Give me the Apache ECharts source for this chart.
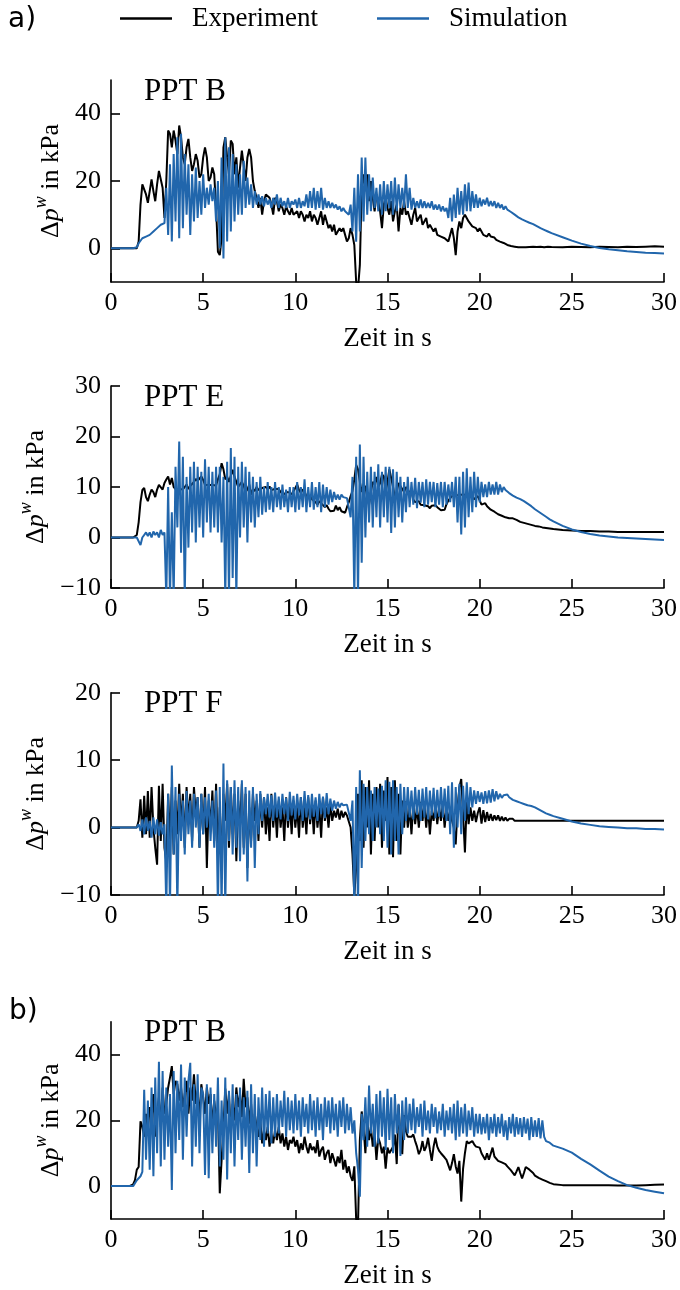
<!DOCTYPE html>
<html><head><meta charset="utf-8">
<script src="https://cdn.jsdelivr.net/npm/echarts@6/dist/echarts.min.js"></script>
<style>html,body{margin:0;padding:0;background:#fff}#c{width:680px;height:1290px}</style>
</head><body><div id="c"></div>
<script>
// ---- time base: dense samples every 0.1 s from 0 to 24 s, then tail samples every 0.5 s from 24.5 to 30 s
const DENSE_STEP = 0.1;
const TAIL_START = 24.5;
const TAIL_STEP = 0.5;

// ---- a) PPT B
const expAB = [
0,0,0,0,0,0,0,0,0,0,
0,0,0,0,0,2,13,19,19.5,16,
13.5,17,20.5,17,14,19,23,23,18,9,
20,35,34,30,35,32,28,36.5,33,27,
25,30,32.5,27,23,25,28,26,21,22,
27,30,27,20,21,24,22,12,-1,-2,
3,30,33,27,22,32,31,22,27,18,
24,29,29,20,27,29.5,27,20,17,15,
12,15,10,14,16,16.5,15,13,10,15,
14,11,13,12,10,12.5,11,10,12,10,
10.5,11,9,11,10,8,10,9,11,8,
10,9,7,9,11,7,10,8,6,7,
5,7,4,5,6,5,6,4,2,3,
6,4,1,-10,-12,-5,18,22,17,22,
14,20,15,11,16,14,11,6,13,15,
12,10,14,8,11,13,5,12,10,14,
10,11,9,7,10,12,8,9,10,7,
8,9,6,7,6,5,6,4,4.5,3.5,
4,3,2.5,2,4,6,3,-2,5,8,
6,9,10,10.5,8,8.5,6.5,7,6,5,
6,5,4,4.5,3.5,4.4,3.5,3,3.2,2.5,
2.5,2,1.5,1.6,1.2,1,0.9,0.7,0.6,0.5,
0.4,0.3,0.5,0.3,0.4,0.3,0.5,0.4,0.3,0.5,
0.3,0.4,0.3,0.5,0.4,0.3,0.4,0.5,0.3,0.4,
0.4];
const expAB_tail = [0.3,0.5,0.4,0.3,0.5,0.4,0.3,0.5,0.4,0.5,0.6,0.5];

const simAB = [
0,0,0,0,0,0,0,0,0,0,
0,0,0,0,0.3,1.5,2,3,2.5,3.5,
3.5,4,4.5,5,5.5,6,6.5,7,7,7.5,
18,4,25,2,28,8,33,3,34,6,
28,10,25,4,22,8,24,9,20,10,
22,12,18,13,19,14,18,8,20,0,
27,-3,33,2,30,5,28,8,25,10,
22,10,26,12,21,13,19,12,17,13,
16,13,15.5,12.5,15,13,14.5,12,15,13,
16,12,15,12.5,14,12,15,12,14,13,
14.5,12,15,12,14,12.5,16,12,17,12,
18,11.5,17,12,18,11.5,15,12,14,12,
13.5,12,13,11.5,12.5,11,12,11,11.5,10,
13,5,18,2,22,5,27,8,27,10,
22,11,21,12,18,11,19,10,20,11,
19,12,20,10,21,11,19,12,18,12,
22,12,18,11.5,15,12,14,12,14.5,12,
14,12,13.5,12,14,11.5,13,11.5,13,11,
12.5,11,12,9,15,8,16,9,18,10,
17,10,19,11,19.5,11,17,12,16,12,
15,12.5,14.5,13,15,12.5,14,12.5,14,12,
13.5,12,13,11.5,12.5,11.5,11.5,10.8,10.5,10,
9.5,9.2,8.9,8.6,8.3,8.1,7.8,7.6,7.4,7.2,
6.9,6.6,6.3,6,5.7,5.5,5.2,5,4.8,4.5,
4.3];
const simAB_tail = [3.3,2.3,1.4,0.7,0.1,-0.3,-0.6,-0.9,-1.1,-1.3,-1.4,-1.5];

// ---- a) PPT E
const expAE = [
0,0,0,0,0,0,0,0,0,0,
0,0,0,0,0.5,3,7,9.4,9.8,8,
7.2,8.5,9.5,9,8,9.5,10.4,10.4,9.5,10.8,
11.5,12.1,10.5,11.8,10,9.6,9.4,9.6,9.3,9.5,
9.8,10.5,9.6,10.2,10.6,11,11.6,11.2,11.4,12.1,
11.4,10.4,10.6,10.4,10.4,10.4,10.5,10.3,11.5,12.5,
14.7,13.5,11.5,12,11,12.2,13.4,12,11,10,
10.3,11,10.2,9,9.5,10.5,8.5,9.6,9.2,10,
9.4,9.7,9.8,9.5,10,9.5,10.1,9.4,9.2,9.6,
9.3,9.6,9,8.8,8.5,9,9.2,8.9,8.5,8.8,
9.8,10.5,9.4,8.8,9.5,9.1,8.2,7.8,8.3,7.6,
7.3,7,6.5,7.2,6.8,6.6,6,6.4,5.7,5.2,
5,5.3,6.3,5.4,6,5.2,5,4.9,6,7,
8.2,9.2,11.5,14.4,13.5,11,9,10.5,10,8,
6.5,9,11,10.5,12,10,10.8,12.5,12.1,9,
11,13.5,13.7,10,8,9,10.8,10.5,9.6,9,
10,9.5,8.8,9.2,7.5,7,6.8,7.2,6.5,6.8,
6.4,6.6,6.2,5.8,6.3,6.6,6.4,6,5.7,5.4,
5.2,5.5,6.6,7.3,7.8,8.2,8.5,8.3,8.6,8.4,
8.6,8.5,8.3,8.4,8,8.5,8.1,7.6,7.9,8.2,
8.1,6.5,6.2,6.8,6.2,5.9,5.5,5.3,5.1,4.8,
4.6,4.4,4.3,4.1,4,3.9,3.8,3.9,3.8,3.6,
3.5,3.3,3.1,3,2.9,2.8,2.7,2.6,2.5,2.4,
2.3,2.3,2.2,2.1,2,2,1.9,1.8,1.8,1.7,
1.7];
const expAE_tail = [1.5,1.4,1.3,1.3,1.2,1.2,1.1,1.1,1.1,1.1,1.1,1.1];

const simAE = [
0,0,0,0,0,0,0,0,0,0,
0,0,0,0,0,0,-1.5,0,0.5,1,
0.3,1,0,1.2,0.5,1,0,1.5,0.5,1,
-12,10,-12,5,-12,14,2,19,-3,16,
-12,12,-2,14,1,15,-1,14,2,13,
0,15.5,3,14,1,13,2,14,1,14,
-1,12,-12,15,-12,17.7,-8,16,-12,14,
0,15,2,14,-1,13,3,12,2,11,
4,12,4.5,10,5,11,5.5,10,5,11,
6,10,5.5,10.5,6,9.5,5,10,6,10,
5,11,5.5,10,6,11.5,5,10,6,11,
5.5,10,6,11,5,10.5,6,10,6.5,9.5,
7,9,7.5,8.5,7.5,8.5,8,8.3,7.8,8,
4,12,-12,16,-12,18.4,-5,16,0,13,
3,14,2,13,4,14.5,2,13,4,14,
3,14,0.9,13.5,2,13,4,12,3,11,
5,12,6,11,6.5,11.8,5.8,11,6.9,11,
6,11.5,6.5,11,7,11,6,10.8,6.5,11,
6,11,6.5,10.5,7,11,6,12,3,12,
0.6,13,2,13.7,4,12,5,13,6,12,
7,11,8,10.5,8,11,8.5,10.5,8.5,11,
8.5,10.5,9,10,9.4,9.2,8.8,8.6,8.3,8,
7.9,7.8,7.6,7.4,7.2,7,6.7,6.5,6.2,5.9,
5.6,5.3,5.1,4.8,4.6,4.3,4.1,3.8,3.6,3.4,
3.2];
const simAE_tail = [2.3,1.6,1.1,0.7,0.4,0.2,0,-0.1,-0.2,-0.3,-0.4,-0.5];

// ---- a) PPT F
const expAF = [
0,0,0,0,0,0,0,0,0,0,
0,0,0,0,0,1,4.2,-1.5,4.7,-1,
5.4,-1.5,6,0,-3,-5.5,6.2,-2,6.5,-3,
-5,5,-2,6,-4,4,-1,6.5,0,5,
-3,6,1,5,-2,6,2,4.5,-3,5,
-1,6,-6,4,0,5.5,-2,6.5,-4,3,
-6,5,1,6.5,-3,6,-1,5,-5,4,
0,6.5,-3,5,-6,3,-2,5,1,4,
-2,5,0,4.5,-1,3,-2,5,0,3.5,
-1.5,4,0,3,-2,4.5,0,3.5,-1,4,
0,3,-1.5,4.5,0,3,-1,4.5,0.5,3.5,
-1,4,0,3,-1.5,4.5,1,3,0,3.5,
1,2.5,1.5,2.8,1.2,2.5,1.5,2.3,1.8,2,
0,-4,-10,-6,5,-2,7,-3,6,0,
7,-4,5,-2,6,0,6.5,-3,5.5,1,
7.5,-4,6,-4.4,7,-2,5,-4,4,0,
3.9,0,3,-1,3.5,0.5,3,0,3.8,1,
3.5,0,3,-1,2.5,1,3.5,0.5,3,1,
3.5,0,3,1,2.5,1,0,-2.5,3,6,
7.2,2,-3.7,4,0.5,3,1,2.5,0.8,2.2,
3,0.6,2.6,0.8,2.3,1,2,1,1.8,1.1,
1.8,1,1.6,1,1.5,1,1.3,1.1,1.3,1,
1.2,1,1.1,1,1.1,1,1,1,1,1,
1,1,1,1,1,1,1,1,1,1,
1];
const expAF_tail = [1,1,1,1,1,1,1,1,1,1,1,1];

const simAF = [
0,0,0,0,0,0,0,0,0,0,
0,0,0,0,0,0.5,-0.5,1.2,-1,1.5,
-0.5,1,-1.5,1.5,-1,1.2,-1.2,0.8,-1,0.5,
-12,5,-12,9.2,-4,6,-12,5,-2,4,
-4,5.4,-1,4,-3,5,0,4.5,-3,5,
-1,4.5,0,5,-2,4,-3,5.5,-12,6,
-12,9.5,-12,7,-2,6,-4,7,-3,6,
-5,7,-4,6,-8,5.5,-3,6,-6,5,
-1,5.4,1,4.5,2,5,1.5,4.8,1,5.2,
1.5,4.6,1.2,5,2,4.4,1,5.3,1.8,4.7,
1.2,5,1.8,4.5,1,5.4,1.5,4.8,1.2,5,
1.6,4.5,1,5,2,4.6,1.4,5.1,2,4.3,
2.5,4,2.8,3.8,3,3.6,3.3,3.5,3.4,3.3,
1,4,-12,6,-12,8.5,-6,6.5,-2,6,
-1,5.5,-2,6,0,5.8,-1,6.2,-2,7,
-3,6.8,-4,7,-2,6,-4,6.5,-1,6,
1,6,1.5,5.5,1.2,6,1.9,5.6,1,5.8,
1.5,6,1.2,5.5,1.8,5.9,1.4,5.6,1.6,6,
1.5,5.8,1,6.2,-1,6.7,-3,6,0,6.5,
-1,6.2,1,6.7,2,6,3,5.5,3.5,5.4,
3.8,5.2,3.5,5.4,3.6,5.5,3.7,5.7,3.9,5.4,
4.2,5,4.4,4.8,4.6,4.9,4.5,4.3,4.1,4,
3.9,4,3.7,3.8,3.5,3.6,3.3,3.3,3.2,3.1,
3,2.8,2.7,2.5,2.4,2.2,2.1,2,1.9,1.8,
1.7];
const simAF_tail = [1.3,0.9,0.6,0.4,0.2,0.1,0,-0.1,-0.1,-0.2,-0.2,-0.3];

// ---- b) PPT B
const expB = [
0,0,0,0,0,0,0,0,0,0,
0,0,0.5,1.8,5,5.8,19.7,18,15,22,
17,24,20,28,15,22,27,18,30,22,
25,30,33,36.5,28,32,31,26,30,24,
28,32,22,30,26,34,25,29,20,31,
27,22,30,25,28,18,26,21,24,-2.2,
-1.6,18,29.7,22,28,16,25,20,30,24,
28,21,32.6,24,27,19,25,16,22,18,
15,20,13,17,14,18,12,16,13,17,
14,18,13,16,12,15,11,14,13,15,
12,14,10,13,11,15,12,10,13,11,
12,10,14,9,11,12,8,10,11,7,
10,8,6,9,7,11,5,8,4,6,
3,1.6,6,-10,-12,14,22.7,18,10,20,
14,18,12,16,8,14.7,13,10,12,5.3,
11.7,10,9.7,12,15.7,6.7,24.7,15,9.7,21.6,
16.7,15,14.7,15,15.7,13.7,12,9.7,11,13.7,
10.7,12,14.7,11,7.7,12,14.7,12,10.7,10,
9.7,8.7,8,7.7,4.8,7,9.7,6,3.8,7.7,
-4.7,5.3,10,13.7,13,12.7,13.7,12.7,12,12,
11.7,10,9,8,10,8,7.7,11.7,9,8.7,
7.7,7.5,7.2,7,6.7,6,5.5,4.8,4,3.3,
4.5,5.8,4,2.3,4,5.8,5.3,5,4.8,4,
3.2,2.8,2.5,2.2,2,1.8,1.5,1.2,1,0.8,
0.6];
const expB_tail = [0.3,0.3,0.3,0.3,0.3,0.3,0.2,0.2,0.2,0.3,0.4,0.5];

const simB = [
0,0,0,0,0,0,0,0,0,0,
0,0,0,0.5,1.8,2,3,4.3,29.3,8,
26,5,30,3,33,10,37.8,6,35,8,
30,12,28,-1.2,35,10,32,14,37,8,
33,15,32,37.5,6,31,12,34,10,30,
28,3.4,31,2.4,30,10,28,12,33,6,
26,8,33,2,29,10,31,6,28,14,
30,8,27,12,29,4,31,10,28,6,
27,14,30,12,28,16,29,13,27,15,
28,16,26,18,29,15,27,17,26,16,
28,17,26,15,27,18,25,16,28,17,
26,15,27,17,25,14,27,18,26,16,
27,17,25,15,26,18,27,16,25,17,
24,16,20,10,5,-3.2,22,14,27,12,
30.6,16,25,12,28,13,29,15,27,11,
29.6,14,27,10,28,16,25,9.2,26,14,
27,16,25,17,26.6,16,24,18,25,15,
26,17,23,16,25,18,24,16,22.7,17,
25,15,23,17,24,16,25,14,26,15,
24,16,25,15,23,17,24,15,22,16,
22,15.7,21,16,22,14,21,16,22,15,
21,16,22,15,20,14,21,16,22,15,
21,15.7,20.7,15,21,16,20.5,14,21,15,
20,15,20.7,14.5,20,15,13.7,13.5,13.2,12.8,
12.3];
const simB_tail = [11.4,10.2,8.3,6.6,4.7,2.9,1.5,0.3,-0.5,-1.2,-1.7,-2.2];

// ---- axes / labels
const panelTitles = ['PPT B', 'PPT E', 'PPT F', 'PPT B'];
const yMins = [-10, -10, -10, -10];
const yMaxs = [50, 30, 20, 50];
const yTickValues = [[0, 20, 40], [-10, 0, 10, 20, 30], [-10, 0, 10, 20], [0, 20, 40]];
const xMin = 0, xMax = 30, xStep = 5;
const xName = 'Zeit in s';
const seriesNames = ['Experiment', 'Simulation'];
const expSets = [[expAB, expAB_tail], [expAE, expAE_tail], [expAF, expAF_tail], [expB, expB_tail]];
const simSets = [[simAB, simAB_tail], [simAE, simAE_tail], [simAF, simAF_tail], [simB, simB_tail]];

function toPairs(dense, tail) {
  const out = [];
  dense.forEach((v, i) => out.push([Math.round(i * DENSE_STEP * 100) / 100, v]));
  tail.forEach((v, i) => out.push([TAIL_START + i * TAIL_STEP, v]));
  return out;
}

const SERIF = 'Liberation Serif';
const BLUE = '#2166ac';
const LW = 2;
const layout = [
  {top: 80, height: 202},
  {top: 386, height: 202},
  {top: 692.7, height: 202.3},
  {top: 1021.7, height: 201}
];
const minus = v => (v < 0 ? '\u2212' + (-v) : String(v));

const grid = [], xAxis = [], yAxis = [], series = [], title = [];
layout.forEach((g, i) => {
  grid.push({left: 111, width: 554, top: g.top, height: g.height, containLabel: false});
  xAxis.push({
    type: 'value', gridIndex: i, min: xMin, max: xMax, interval: xStep,
    name: xName, nameLocation: 'middle', nameGap: 43,
    nameTextStyle: {fontFamily: SERIF, fontSize: 27, color: '#000'},
    axisLine: {onZero: false, lineStyle: {color: '#000', width: 1.6}},
    axisTick: {inside: true, length: 9, lineStyle: {color: '#000', width: 1.6}},
    axisLabel: {fontFamily: SERIF, fontSize: 26, color: '#000', margin: 8},
    splitLine: {show: false}
  });
  yAxis.push({
    type: 'value', gridIndex: i, min: yMins[i], max: yMaxs[i], interval: 10,
    name: '{n|Δ}{i|p}{s|w}{n| in kPa}', nameLocation: 'middle', nameGap: 47,
    nameTextStyle: {
      fontFamily: SERIF, fontSize: 26, color: '#000',
      rich: {
        n: {fontFamily: SERIF, fontSize: 26, color: '#000', lineHeight: 32, verticalAlign: 'bottom'},
        i: {fontFamily: SERIF, fontSize: 26, fontStyle: 'italic', color: '#000', lineHeight: 32, verticalAlign: 'bottom'},
        s: {fontFamily: SERIF, fontSize: 18, fontStyle: 'italic', color: '#000', lineHeight: 18, verticalAlign: 'top'}
      }
    },
    axisLine: {onZero: false, lineStyle: {color: '#000', width: 1.6}},
    axisTick: {inside: true, length: 9, customValues: yTickValues[i], lineStyle: {color: '#000', width: 1.6}},
    axisLabel: {fontFamily: SERIF, fontSize: 26, color: '#000', margin: 10, customValues: yTickValues[i], formatter: minus},
    splitLine: {show: false}
  });
  series.push({
    name: seriesNames[0], type: 'line', xAxisIndex: i, yAxisIndex: i,
    data: toPairs(expSets[i][0], expSets[i][1]), symbol: 'none', clip: true, z: 2,
    lineStyle: {color: '#000', width: LW}, itemStyle: {color: '#000'}
  });
  series.push({
    name: seriesNames[1], type: 'line', xAxisIndex: i, yAxisIndex: i,
    data: toPairs(simSets[i][0], simSets[i][1]), symbol: 'none', clip: true, z: 3,
    lineStyle: {color: BLUE, width: LW}, itemStyle: {color: BLUE}
  });
  title.push({text: panelTitles[i], left: 144, top: g.top - 4, padding: 0,
    textStyle: {fontFamily: SERIF, fontSize: 31, fontWeight: 'normal', color: '#000'}});
});
title.push({text: 'a)', left: 8, top: 6, padding: 0, textStyle: {fontFamily: 'DejaVu Sans', fontSize: 28, fontWeight: 'normal', color: '#000'}});
title.push({text: 'b)', left: 9, top: 998, padding: 0, textStyle: {fontFamily: 'DejaVu Sans', fontSize: 28, fontWeight: 'normal', color: '#000'}});

const legendBase = {
  top: 5, padding: 0, icon: 'rect', itemWidth: 52, itemHeight: 2.4,
  textStyle: {fontFamily: SERIF, fontSize: 27, color: '#000', padding: [0, 0, 0, 15]}
};

const chart = echarts.init(document.getElementById('c'), null, {renderer: 'canvas', width: 680, height: 1290});
chart.setOption({
  animation: false,
  backgroundColor: '#fff',
  title,
  legend: [
    Object.assign({}, legendBase, {data: [seriesNames[0]], left: 120}),
    Object.assign({}, legendBase, {data: [seriesNames[1]], left: 377})
  ],
  grid, xAxis, yAxis, series
});
</script>
</body></html>
